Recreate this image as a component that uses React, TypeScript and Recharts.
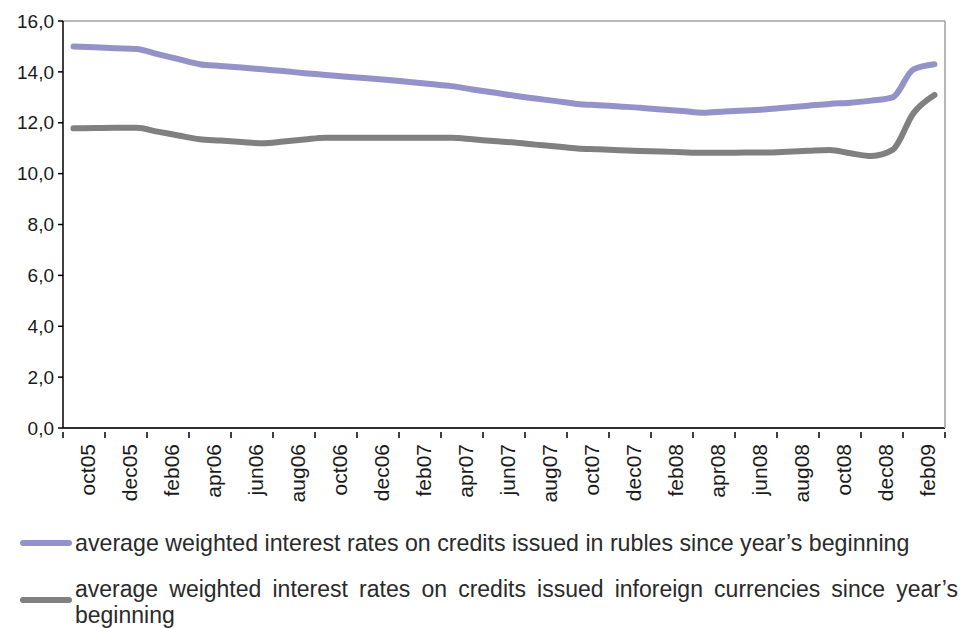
import { LineChart, Line, XAxis, YAxis, CartesianGrid } from 'recharts';

const months = [
    'oct05', 'nov05', 'dec05',
    'jan06', 'feb06', 'mar06', 'apr06', 'may06', 'jun06', 'jul06', 'aug06', 'sep06', 'oct06', 'nov06', 'dec06',
    'jan07', 'feb07', 'mar07', 'apr07', 'may07', 'jun07', 'jul07', 'aug07', 'sep07', 'oct07', 'nov07', 'dec07',
    'jan08', 'feb08', 'mar08', 'apr08', 'may08', 'jun08', 'jul08', 'aug08', 'sep08', 'oct08', 'nov08', 'dec08',
    'jan09', 'feb09', 'mar09',
];

const rublesRates = [
    15.0, 14.97, 14.93, 14.9, 14.7, 14.5, 14.3, 14.23, 14.17, 14.1,
    14.03, 13.95, 13.88, 13.81, 13.75, 13.68, 13.6, 13.52, 13.44, 13.31,
    13.19, 13.06, 12.95, 12.85, 12.74, 12.69, 12.64, 12.59, 12.52, 12.46,
    12.39, 12.44, 12.48, 12.53, 12.6, 12.67, 12.74, 12.79, 12.87, 13.0,
    14.1, 14.3,
];

const foreignRates = [
    11.78, 11.79, 11.8, 11.8, 11.65, 11.5, 11.35, 11.3, 11.24, 11.19,
    11.26, 11.34, 11.41, 11.41, 11.41, 11.41, 11.41, 11.41, 11.41, 11.35,
    11.28, 11.22, 11.14, 11.07, 10.99, 10.96, 10.92, 10.89, 10.87, 10.84,
    10.82, 10.82, 10.83, 10.83, 10.86, 10.9, 10.93, 10.8, 10.69, 10.93,
    12.38, 13.09,
];

const yTicks = [0, 2, 4, 6, 8, 10, 12, 14, 16];

const rublesLabel = 'average weighted interest rates on credits issued in rubles since year\u2019s beginning';
const foreignLabel = 'average weighted interest rates on credits issued inforeign currencies since year\u2019s beginning';

const PURPLE = '#9493C9';
const GREY = '#808080';
const FONT = '"Liberation Sans", Arial, sans-serif';

const chartData = months.map((m, i) => ({
    month: m,
    rubles: rublesRates[i],
    foreign: foreignRates[i],
}));

// half of one category band (882px plot / 42 months)
const HALF = 10.5;

function MonthTick(props: any) {
    const { x, y, payload } = props;
    const isLast = payload.value === 'feb09';
    const lx = x + HALF + 3;
    return (
        <g>
            <line x1={x - HALF} x2={x - HALF} y1={y - 4} y2={y + 2} stroke="#000" strokeWidth={1.5} />
            {isLast && (
                <line x1={x + HALF * 3} x2={x + HALF * 3} y1={y - 4} y2={y + 2} stroke="#000" strokeWidth={1.5} />
            )}
            <text
                x={lx}
                y={y + 8}
                transform={`rotate(-90, ${lx}, ${y + 8})`}
                textAnchor="end"
                dominantBaseline="central"
                fontSize={21}
                fontFamily={FONT}
                fill="#1a1a1a"
            >
                {payload.value}
            </text>
        </g>
    );
}

export default function App() {
    return (
        <div style={{ position: 'relative', width: 964, height: 620 }}>
            <LineChart
                width={950}
                height={500}
                data={chartData}
                margin={{ top: 13, right: 5, left: 0, bottom: 0 }}
            >
                <CartesianGrid vertical={false} stroke="#A0A0A0" strokeWidth={1.5} />
                <XAxis
                    dataKey="month"
                    interval={1}
                    height={80}
                    padding={{ left: HALF, right: HALF }}
                    tickLine={false}
                    axisLine={{ stroke: '#000', strokeWidth: 1.5 }}
                    tick={<MonthTick />}
                />
                <YAxis
                    yAxisId="left"
                    width={55}
                    domain={[0, 16]}
                    ticks={yTicks}
                    tickFormatter={(v: number) => v.toFixed(1).replace('.', ',')}
                    tickSize={5}
                    tickLine={{ stroke: '#000', strokeWidth: 1.5 }}
                    axisLine={{ stroke: '#000', strokeWidth: 1.5 }}
                    tick={{ fontSize: 19, fontFamily: FONT, fill: '#1a1a1a', dx: -2 }}
                />
                <YAxis
                    yAxisId="right"
                    orientation="right"
                    width={8}
                    domain={[0, 16]}
                    tick={false}
                    tickLine={false}
                    axisLine={{ stroke: '#A0A0A0', strokeWidth: 1.5 }}
                />
                <Line
                    yAxisId="left"
                    type="monotone"
                    dataKey="rubles"
                    stroke={PURPLE}
                    strokeWidth={6}
                    strokeLinecap="round"
                    dot={false}
                    isAnimationActive={false}
                />
                <Line
                    yAxisId="left"
                    type="monotone"
                    dataKey="foreign"
                    stroke={GREY}
                    strokeWidth={6}
                    strokeLinecap="round"
                    dot={false}
                    isAnimationActive={false}
                />
            </LineChart>

            {/* legend */}
            <div style={{ position: 'absolute', left: 12, top: 532, width: 52, height: 6, borderRadius: 3, background: PURPLE }} />
            <div
                style={{
                    position: 'absolute', left: 67, top: 520, width: 890,
                    fontFamily: FONT, fontSize: 23.2, lineHeight: '30px', color: '#2a2a2a', whiteSpace: 'nowrap',
                }}
            >
                {rublesLabel}
            </div>
            <div style={{ position: 'absolute', left: 12, top: 589, width: 52, height: 6, borderRadius: 3, background: GREY }} />
            <div
                style={{
                    position: 'absolute', left: 67, top: 568, width: 883,
                    fontFamily: FONT, fontSize: 23, lineHeight: '26px', color: '#2a2a2a', textAlign: 'justify',
                }}
            >
                {foreignLabel}
            </div>
        </div>
    );
}
